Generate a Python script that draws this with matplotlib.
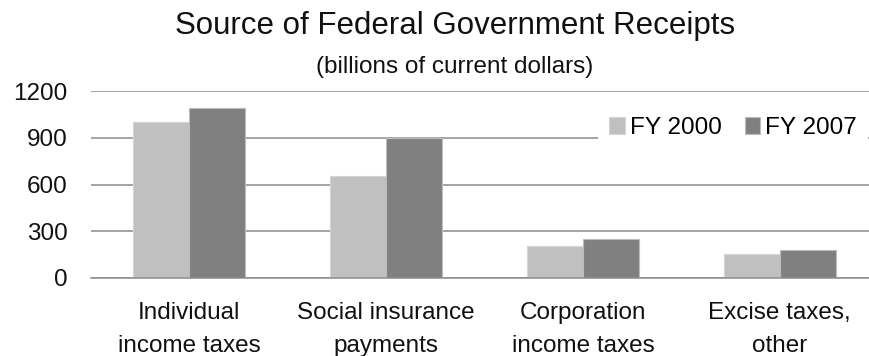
import numpy as np
import matplotlib
matplotlib.use("Agg")
import matplotlib.pyplot as plt

# receipts by source, billions of current dollars
categories = ["Individual\nincome taxes", "Social insurance\npayments",
              "Corporation\nincome taxes", "Excise taxes,\nother"]
fy2000 = [1004, 652, 207, 152]
fy2007 = [1090, 898, 253, 177]
series_names = ["FY 2000", "FY 2007"]
y_ticks = [0, 300, 600, 900, 1200]

plt.rcParams['font.family'] = ['Liberation Sans', 'DejaVu Sans']

fig = plt.figure(figsize=(8.69, 3.56), dpi=100)
ax = fig.add_axes([91 / 869, 78 / 356, 787 / 869, 187 / 356])

x = np.arange(len(categories))
w = 0.285
light = "#c0c0c0"
dark = "#808080"
b1 = ax.bar(x - w / 2, fy2000, w, color=light, edgecolor="#d4d4d4", linewidth=0.8, zorder=2)
b2 = ax.bar(x + w / 2, fy2007, w, color=dark, edgecolor="#bcbcbc", linewidth=0.8, zorder=2)

ax.set_xlim(-0.5, len(categories) - 0.5)
ax.set_ylim(0, 1200)
ax.set_yticks(y_ticks)
ax.set_yticklabels([str(t) for t in y_ticks])
ax.set_xticks(x)
ax.set_xticklabels(categories, linespacing=1.65)
ax.tick_params(axis="both", length=0, labelsize=17.5, colors="#111111")
ax.tick_params(axis="y", pad=17)
ax.tick_params(axis="x", pad=17)
ax.yaxis.grid(True, color="#8c8c8c", linewidth=1.1)
ax.set_axisbelow(True)
for side in ["left", "right", "top"]:
    ax.spines[side].set_visible(False)
ax.spines["bottom"].set_color("#8c8c8c")
ax.spines["bottom"].set_linewidth(1.1)

leg = ax.legend([b1, b2], series_names, loc="upper left",
                bbox_to_anchor=(598 / 869, 1 - 106 / 356), bbox_transform=fig.transFigure,
                ncol=2, frameon=True, fontsize=17.5, handlelength=0.65, handleheight=0.65,
                handletextpad=0.2, columnspacing=0.95, borderpad=0.45, borderaxespad=0)
leg.get_frame().set_facecolor("white")
leg.get_frame().set_edgecolor("none")
leg.get_frame().set_alpha(1)
leg.set_zorder(5)

fig.text(455 / 869, 1 - 26 / 356, "Source of Federal Government Receipts",
         ha="center", va="center", fontsize=22.5, color="#111111")
fig.text(455 / 869, 1 - 67 / 356, "(billions of current dollars)",
         ha="center", va="center", fontsize=17.5, color="#111111")

fig.savefig("out.png", dpi=100, facecolor="white")
